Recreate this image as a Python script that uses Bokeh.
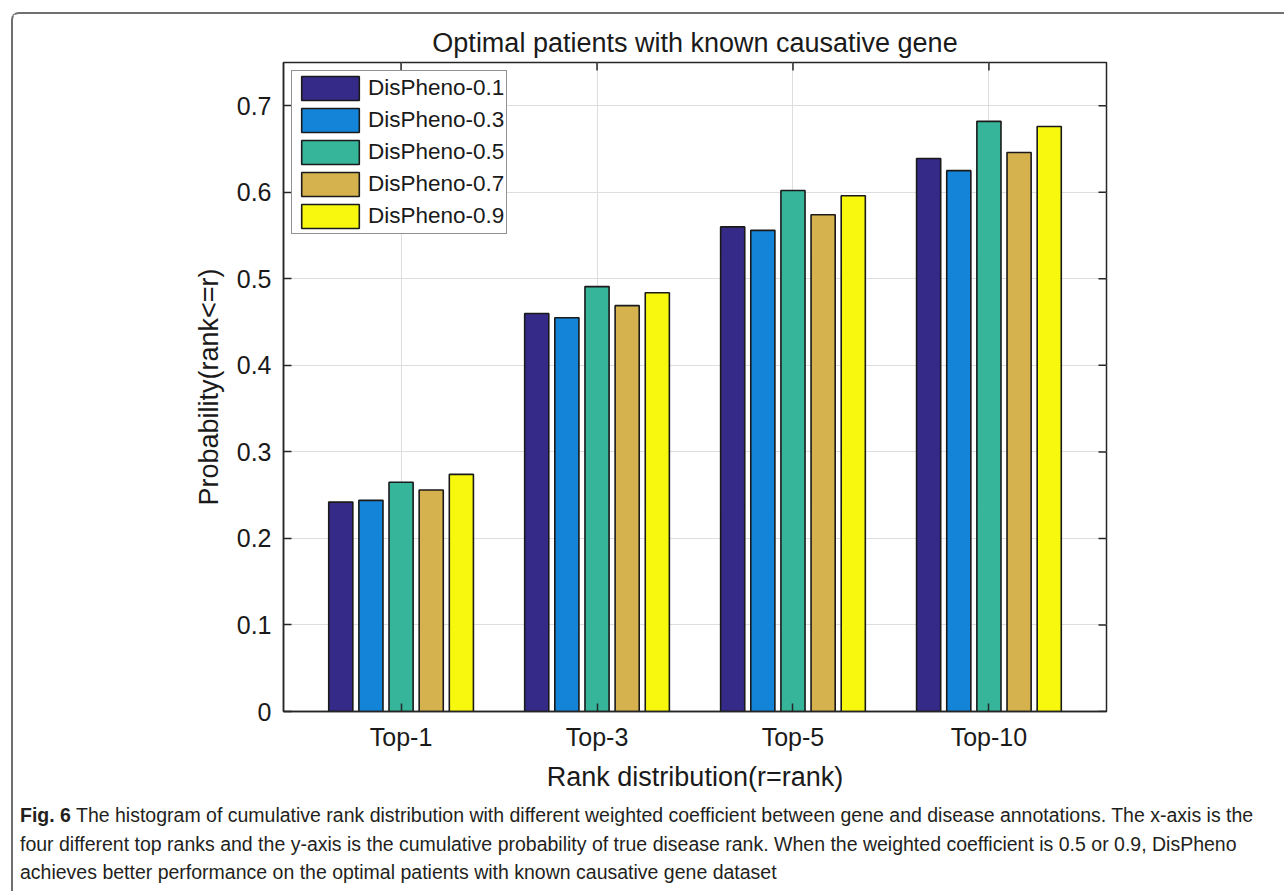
from bokeh.plotting import figure
from bokeh.models import (FixedTicker, Range1d, Legend, LegendItem,
                          Div, ColumnDataSource)
from bokeh.layouts import column
from bokeh.embed import file_html
from bokeh.resources import INLINE
import numpy as np

# ---- data ----
categories = ["Top-1", "Top-3", "Top-5", "Top-10"]
series_names = ["DisPheno-0.1", "DisPheno-0.3", "DisPheno-0.5", "DisPheno-0.7", "DisPheno-0.9"]
dispheno_01 = [0.242, 0.460, 0.560, 0.639]
dispheno_03 = [0.244, 0.455, 0.556, 0.625]
dispheno_05 = [0.265, 0.491, 0.602, 0.682]
dispheno_07 = [0.256, 0.469, 0.574, 0.646]
dispheno_09 = [0.274, 0.484, 0.596, 0.676]
y_ticks = [0, 0.1, 0.2, 0.3, 0.4, 0.5, 0.6, 0.7]
y_tick_labels = ["0", "0.1", "0.2", "0.3", "0.4", "0.5", "0.6", "0.7"]

series_values = [dispheno_01, dispheno_03, dispheno_05, dispheno_07, dispheno_09]
colors = ["#352a87", "#1384d8", "#36b59b", "#d6b24f", "#f8f80e"]

FONT = "Liberation Sans"
DARK = "#262626"
X_START, X_END = 0.4, 4.6
Y_START, Y_END = 0.0, 0.75

p = figure(width=1271, height=780, output_backend="svg", toolbar_location=None,
           x_range=Range1d(X_START, X_END), y_range=Range1d(Y_START, Y_END),
           min_border_left=270, min_border_right=178, min_border_top=48,
           min_border_bottom=83)
p.title.text = "Optimal patients with known causative gene"
p.title.align = "center"
p.title.text_font = FONT
p.title.text_font_size = "27px"
p.title.text_font_style = "normal"
p.title.text_color = "#1a1a1a"
p.outline_line_color = DARK
p.outline_line_width = 1.5
p.background_fill_color = "white"
p.border_fill_color = "white"

xpos = list(range(1, len(categories) + 1))
n = len(series_values)
group_w = min(0.8, n / (n + 1.5))
step = group_w / n
bar_w = 0.8 * step

renderers = []
for i, (vals, col) in enumerate(zip(series_values, colors)):
    xs = np.array(xpos, dtype=float) + (i - (n - 1) / 2) * step
    src = ColumnDataSource(dict(x=xs, top=vals))
    r = p.vbar(x="x", top="top", width=bar_w, source=src, fill_color=col,
               line_color="#1a1a1a", line_width=1.6)
    renderers.append(r)

label_map = {xv: c for xv, c in zip(xpos, categories)}
ylabel_map = {t: l for t, l in zip(y_ticks, y_tick_labels)}

def style_axis(ax):
    ax.axis_line_color = DARK
    ax.axis_line_width = 1.5
    ax.major_tick_in = 8
    ax.major_tick_out = 0
    ax.major_tick_line_color = DARK
    ax.major_tick_line_width = 1.5
    ax.minor_tick_line_color = None
    ax.major_label_text_font = FONT
    ax.major_label_text_color = "#1a1a1a"
    ax.axis_label_text_font = FONT
    ax.axis_label_text_font_style = "normal"
    ax.axis_label_text_color = "#1a1a1a"

xa = p.xaxis[0]
xa.ticker = FixedTicker(ticks=xpos)
xa.major_label_overrides = label_map
style_axis(xa)
xa.major_label_text_font_size = "25px"
xa.major_label_standoff = 11
xa.axis_label = "Rank distribution(r=rank)"
xa.axis_label_text_font_size = "27px"
xa.axis_label_standoff = 8

ya = p.yaxis[0]
ya.ticker = FixedTicker(ticks=y_ticks)
ya.major_label_overrides = ylabel_map
style_axis(ya)
ya.major_label_text_font_size = "25px"
ya.major_label_standoff = 12
ya.axis_label = "Probability(rank<=r)"
ya.axis_label_text_font_size = "27px"
ya.axis_label_standoff = 10

# box ticks on the top and right edges (MATLAB "box on" style)
p.ray(x=xpos, y=[Y_END] * len(xpos), length=8, length_units="screen",
      angle=-np.pi / 2, line_color=DARK, line_width=1.5)
p.ray(x=[X_END] * len(y_ticks), y=y_ticks, length=8, length_units="screen",
      angle=np.pi, line_color=DARK, line_width=1.5)

p.xgrid.ticker = FixedTicker(ticks=xpos)
p.ygrid.ticker = FixedTicker(ticks=y_ticks)
p.grid.grid_line_color = "#dedede"
p.grid.grid_line_width = 1

legend = Legend(items=[LegendItem(label=nm, renderers=[r]) for nm, r in zip(series_names, renderers)],
                location="top_left")
legend.label_text_font = FONT
legend.label_text_font_size = "22.5px"
legend.label_text_color = "#1a1a1a"
legend.glyph_width = 72
legend.glyph_height = 30
legend.label_height = 30
legend.spacing = 2
legend.padding = 2
legend.margin = 8
legend.label_standoff = 2
legend.border_line_color = DARK
legend.border_line_width = 1.2
legend.background_fill_color = "white"
legend.background_fill_alpha = 1.0
p.add_layout(legend)

caption = Div(
    text=("<b>Fig. 6</b> The histogram of cumulative rank distribution with different weighted "
          "coefficient between gene and disease annotations. The x-axis is the<br>"
          "four different top ranks and the y-axis is the cumulative probability of true disease "
          "rank. When the weighted coefficient is 0.5 or 0.9, DisPheno<br>"
          "achieves better performance on the optimal patients with known causative gene dataset"),
    width=1260, height=96,
    styles={"font-family": "'Liberation Sans Narrow', 'Liberation Sans', sans-serif",
            "font-size": "19.5px", "line-height": "28.5px", "color": "#231f20",
            "white-space": "nowrap", "padding-left": "2px", "padding-top": "2px"})

layout = column(p, caption,
                styles={"margin-left": "11px", "margin-top": "12px",
                        "border-left": "2px solid #6f6f6f", "border-top": "2px solid #6f6f6f",
                        "border-top-left-radius": "8px", "background": "white"})

open("out.html", "w").write(file_html(layout, INLINE))
